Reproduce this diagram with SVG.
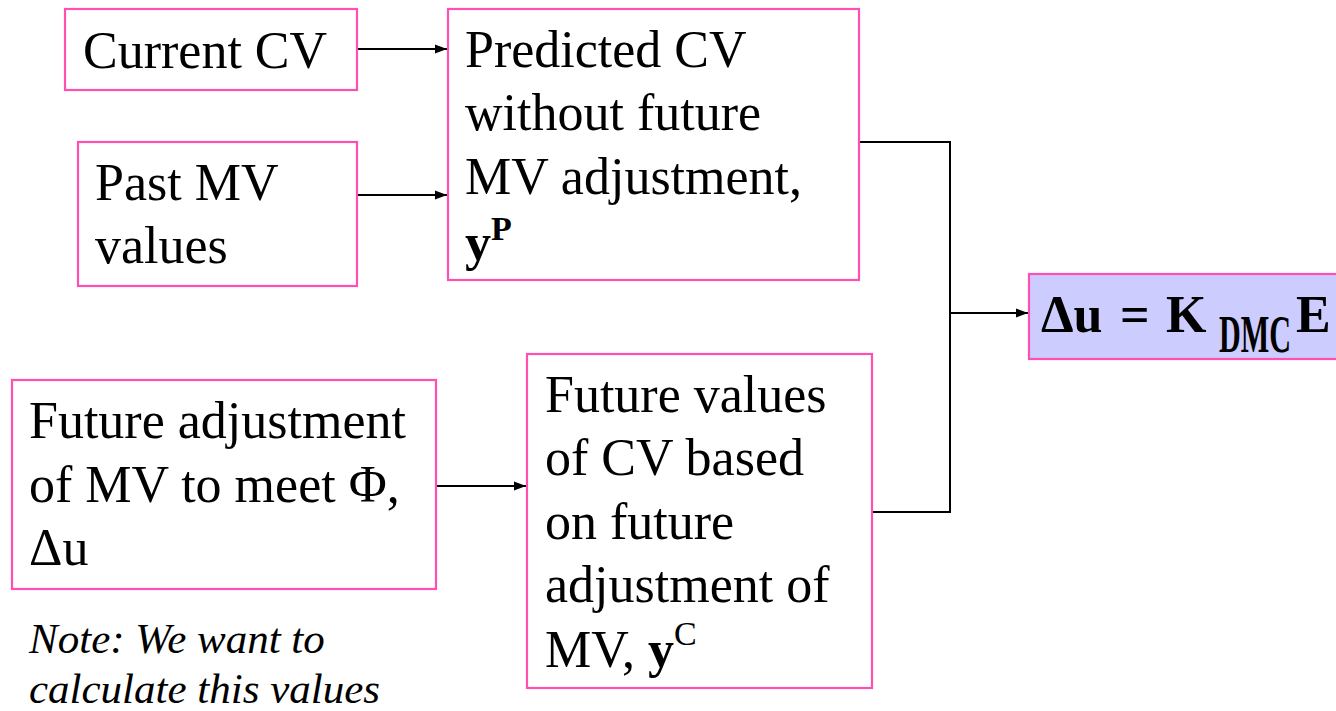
<svg xmlns="http://www.w3.org/2000/svg" width="1336" height="711" viewBox="0 0 1336 711">
<style>
.box{fill:#fff;stroke:#ff4fb0;stroke-width:2.2}
.res{fill:#ccccff;stroke:#ff4fb0;stroke-width:2.2}
.t{font-family:'Liberation Serif',Tinos,'Times New Roman',Times,'DejaVu Serif',serif;font-size:52px;fill:#000}
.b{font-weight:bold}
.note{font-family:'Liberation Serif',Tinos,'Times New Roman',Times,'DejaVu Serif',serif;font-size:43px;font-style:italic;fill:#000}
.ln{fill:none;stroke:#000;stroke-width:2}
</style>
<defs>
<marker id="ah" viewBox="0 0 12 10" refX="12" refY="5" markerWidth="12" markerHeight="10" markerUnits="userSpaceOnUse" orient="auto">
<path d="M0,0.5 L12,5 L0,9.5 z" fill="#000"/>
</marker>
</defs>
<rect width="1336" height="711" fill="#fff"/>
<g id="connectors">
<line class="ln" x1="357" y1="49" x2="447" y2="49" marker-end="url(#ah)"/>
<line class="ln" x1="357" y1="195" x2="447" y2="195" marker-end="url(#ah)"/>
<line class="ln" x1="436" y1="486" x2="526" y2="486" marker-end="url(#ah)"/>
<polyline class="ln" points="859,142 950,142 950,512 872,512"/>
<line class="ln" x1="950" y1="313" x2="1028" y2="313" marker-end="url(#ah)"/>
</g>
<g id="current-cv">
<rect class="box" x="65" y="9" width="292" height="81"/>
<text class="t" x="83" y="68">Current CV</text>
</g>
<g id="past-mv">
<rect class="box" x="78" y="142" width="279" height="144"/>
<text class="t" x="95" y="200">Past MV</text>
<text class="t" x="95" y="263">values</text>
</g>
<g id="predicted-cv">
<rect class="box" x="448" y="9" width="411" height="271"/>
<text class="t" x="465" y="67">Predicted CV</text>
<text class="t" x="465" y="130">without future</text>
<text class="t" x="465" y="194">MV adjustment,</text>
<text class="t" x="465" y="260"><tspan class="b">y</tspan><tspan class="b" font-size="34" dy="-20">P</tspan></text>
</g>
<g id="future-adjustment">
<rect class="box" x="12" y="380" width="424" height="209"/>
<text class="t" x="29" y="438">Future adjustment</text>
<text class="t" x="29" y="502">of MV to meet Φ,</text>
<text class="t" x="29" y="565">Δu</text>
</g>
<g id="future-values">
<rect class="box" x="527" y="354" width="345" height="334"/>
<text class="t" x="545" y="412">Future values</text>
<text class="t" x="545" y="475">of CV based</text>
<text class="t" x="545" y="539">on future</text>
<text class="t" x="545" y="602">adjustment  of</text>
<text class="t" x="545" y="667">MV, <tspan class="b">y</tspan><tspan font-size="34" dy="-22">C</tspan></text>
</g>
<g id="note">
<text class="note" x="29" y="653">Note: We want to</text>
<text class="note" x="29" y="703">calculate this values</text>
</g>
<g id="result">
<rect class="res" x="1029" y="274" width="320" height="85"/>
<text class="t b" x="1041" y="332" font-size="58">Δu</text>
<text class="t b" x="1120" y="332" font-size="58">=</text>
<text class="t b" x="1166" y="332" font-size="60">K</text>
<text class="t b" x="1219" y="352" font-size="36" textLength="72" lengthAdjust="spacingAndGlyphs">DMC</text>
<text class="t b" x="1296" y="332" font-size="58">E</text>
</g>
</svg>
